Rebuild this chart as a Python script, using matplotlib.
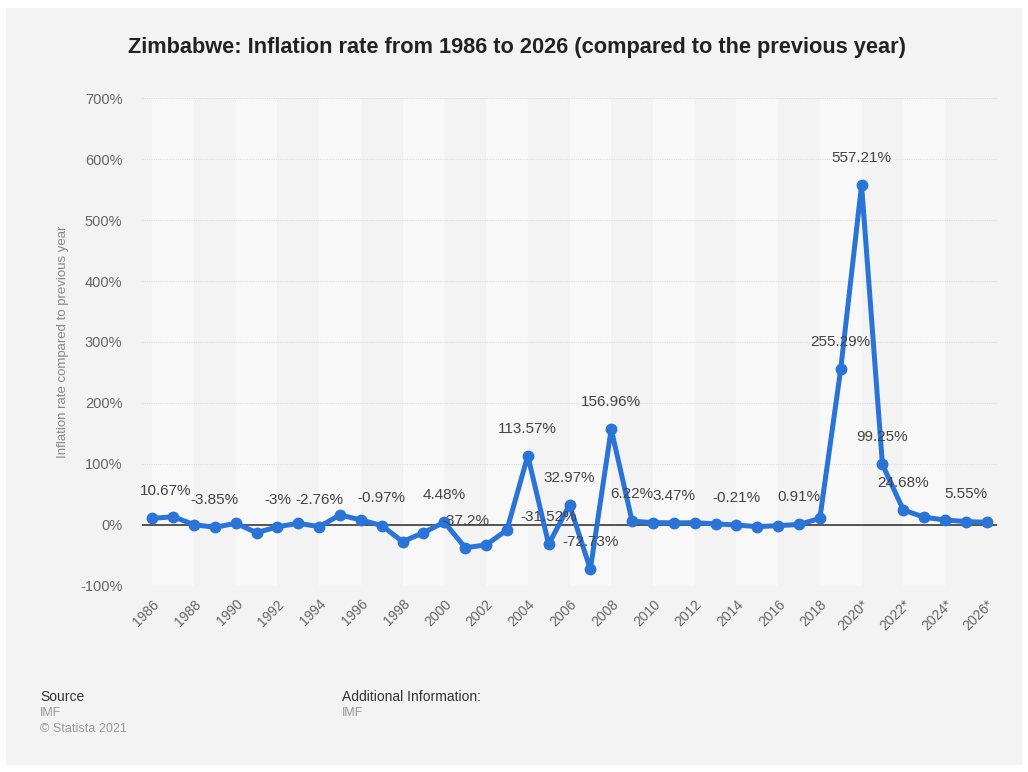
import matplotlib
matplotlib.use("Agg")
import matplotlib.pyplot as plt
from matplotlib.patches import Rectangle

plt.rcParams['font.family'] = ['Liberation Sans', 'DejaVu Sans']

years = list(range(1986, 2027))
inflation = [10.67, 13.6, 0.5, -3.85, 2.7, -12.6, -3, 2.7, -2.76, 16.4,
             8.2, -0.97, -27.4, -12.6, 4.48, -37.2, -32.8, -8.2, 113.57, -31.52,
             32.97, -72.73, 156.96, 6.22, 3.8, 3.47, 3.6, 1.9, -0.21, -2.7,
             -1.2, 0.91, 10.6, 255.29, 557.21, 99.25, 24.68, 12.6, 8.2, 5.55,
             4.4]
labeled_years = [1986, 1989, 1992, 1994, 1997, 2000, 2001, 2004, 2005, 2006,
                 2007, 2008, 2009, 2011, 2014, 2017, 2019, 2020, 2021, 2022, 2025]
tick_years = list(range(1986, 2027, 2))
tick_labels = [str(y) + ('*' if y >= 2020 else '') for y in tick_years]
y_ticks = [-100, 0, 100, 200, 300, 400, 500, 600, 700]

bg = '#f3f3f3'
blue = '#2a74d8'

fig = plt.figure(figsize=(10.28, 7.72), dpi=100)
fig.patch.set_facecolor('white')
fig.patches.append(Rectangle((6 / 1028, 7 / 772), 1016 / 1028, 757 / 772,
                             transform=fig.transFigure, facecolor=bg,
                             edgecolor='none', zorder=-10))

ax = fig.add_axes([0.138, 0.241, 0.832, 0.632])
ax.set_facecolor(bg)
ax.set_xlim(1985.5, 2026.5)
ax.set_ylim(-100, 700)

# alternating light columns every other pair of years
for start in range(1986, 2026, 4):
    ax.axvspan(start, start + 2, color='#f8f8f8', zorder=0, lw=0)

ax.set_yticks(y_ticks)
ax.set_yticklabels([f"{v}%" for v in y_ticks])
ax.yaxis.grid(True, color='#dcdcdc', linestyle=(0, (1, 1)), linewidth=0.8, zorder=1)
ax.axhline(0, color='#3a3a3a', linewidth=1.2, zorder=2)

ax.set_xticks(tick_years)
ax.set_xticklabels(tick_labels, rotation=45, ha='right', rotation_mode='anchor')
ax.tick_params(axis='both', length=0, colors='#666666', labelsize=10.5)
ax.tick_params(axis='x', pad=8, labelsize=10)
ax.tick_params(axis='y', pad=14)
for s in ax.spines.values():
    s.set_visible(False)

ax.plot(years, inflation, color=blue, linewidth=3.6, marker='o',
        markersize=7.5, zorder=3, solid_joinstyle='round')

for yr in labeled_years:
    v = inflation[years.index(yr)]
    ha, dx = 'center', 0
    if yr == years[0]:
        ha, dx = 'left', -9
    ax.annotate(f"{v:g}%", (yr, v), xytext=(dx, 19.5), textcoords='offset points',
                ha=ha, va='center', fontsize=11, color='#444444', zorder=4)

ax.set_ylabel('Inflation rate compared to previous year', color='#888888',
              fontsize=9.5, labelpad=8)

fig.text(0.503, 0.939, 'Zimbabwe: Inflation rate from 1986 to 2026 (compared to the previous year)',
         ha='center', va='center', fontsize=15.7, fontweight='bold', color='#222222')

fig.text(40 / 1028, 1 - 697 / 772, 'Source', fontsize=10, color='#333333', va='center')
fig.text(40 / 1028, 1 - 713 / 772, 'IMF', fontsize=9, color='#999999', va='center')
fig.text(40 / 1028, 1 - 729 / 772, '\u00a9 Statista 2021', fontsize=9, color='#999999', va='center')
fig.text(342 / 1028, 1 - 697 / 772, 'Additional Information:', fontsize=10, color='#333333', va='center')
fig.text(342 / 1028, 1 - 713 / 772, 'IMF', fontsize=9, color='#999999', va='center')

fig.savefig('out.png', dpi=100, facecolor=fig.get_facecolor())
